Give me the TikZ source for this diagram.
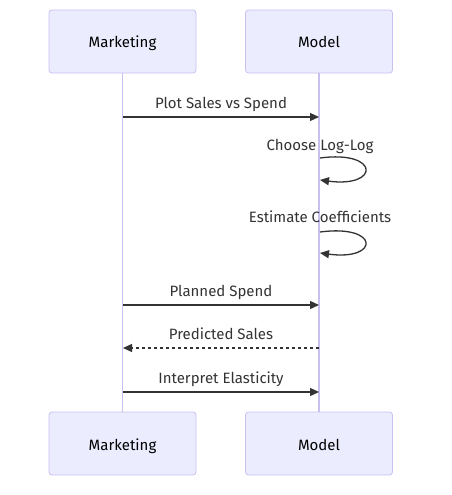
\documentclass[tikz,border=0pt]{standalone}
\usepackage{fontspec}
\setmainfont{Fira Sans}
\usetikzlibrary{arrows.meta,positioning}
\definecolor{actorfill}{HTML}{ECECFF}
\definecolor{actorline}{HTML}{C9C0F0}
\definecolor{msgline}{HTML}{333333}

\begin{document}
\begin{tikzpicture}[x=1pt,y=-1pt,
    actor/.style={draw=actorline, fill=actorfill, line width=0.8pt, rounded corners=3pt,
      minimum width=147pt, minimum height=63pt, inner sep=0pt,
      text height=15pt, text depth=2pt,
      font=\fontsize{15}{18}\selectfont},
    lifeline/.style={draw=actorline, line width=1.6pt},
    msg/.style={draw=msgline, line width=1.3pt, -{Triangle[length=9pt,width=8pt]}},
    reply/.style={msg, dash pattern=on 3pt off 3pt},
    msglabel/.style={font=\fontsize{15}{18}\selectfont, text=msgline, inner sep=0pt,
      text height=11pt, text depth=3pt}]
  \useasboundingbox (0,0) rectangle (451,495);

  % the actor boxes, top and bottom
  \node[actor] (mktop) at (122.5,41.5) {Marketing};
  \node[actor] (mdtop) at (319,41.5) {Model};
  \node[actor] (mkbot) at (122.5,443.5) {Marketing};
  \node[actor] (mdbot) at (319,443.5) {Model};

  % the lifelines
  \draw[lifeline] (mktop.south) -- (mkbot.north);
  \draw[lifeline] (mdtop.south) -- (mdbot.north);

  % points on the lifelines where the messages start and end
  \foreach \n/\y in {a/117, b/305, c/348, d/392} {
    \coordinate (mk\n) at (123,\y);
    \coordinate (md\n) at (319,\y);
  }
  \coordinate (loopa) at (320,158);
  \coordinate (loopb) at (320,232);

  % the messages and labels
  \draw[msg] (mka) -- (mda) node[msglabel, midway, above=5pt] {Plot Sales vs Spend};
  \draw[msg] (loopa) .. controls +(60,-8) and +(60,8) .. ++(0,22);
  \node[msglabel] (lbla) at (320,146) {Choose Log-Log};
  \draw[msg] (loopb) .. controls +(60,-8) and +(60,8) .. ++(0,21);
  \node[msglabel] (lblb) at (320,218) {Estimate Coefficients};
  \draw[msg] (mkb) -- (mdb) node[msglabel, midway, above=5pt] {Planned Spend};
  \draw[reply] (mdc) -- (mkc) node[msglabel, midway, above=5pt] {Predicted Sales};
  \draw[msg] (mkd) -- (mdd) node[msglabel, midway, above=5pt] {Interpret Elasticity};
\end{tikzpicture}
\end{document}
